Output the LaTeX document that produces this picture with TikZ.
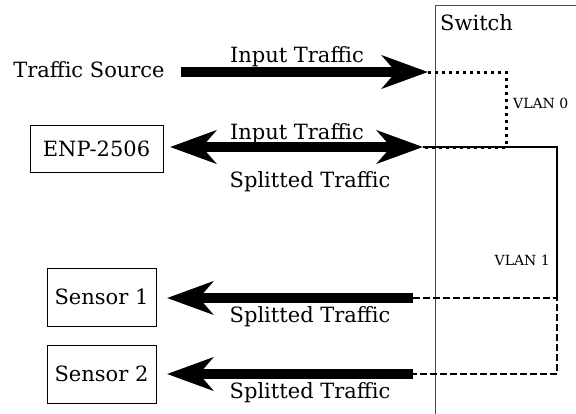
\documentclass[tikz,border=0pt]{standalone}
\usepackage{fontspec}
\setmainfont{DejaVu Serif}
\usetikzlibrary{arrows.meta}
\begin{document}
\begin{tikzpicture}[x=1pt,y=-1pt,
  txt/.style={font=\fontsize{21}{25}\selectfont, inner sep=0pt},
  small/.style={font=\fontsize{14}{16}\selectfont, inner sep=0pt},
  box/.style={draw, line width=0.8pt, font=\fontsize{21}{25}\selectfont, inner sep=0pt},
  fat/.style={line width=10pt},
  headR/.style={-{Stealth[length=46pt,width=33pt,inset=14pt]}},
  headLR/.style={{Stealth[length=46pt,width=33pt,inset=14pt]}-{Stealth[length=46pt,width=33pt,inset=14pt]}},
  headL/.style={{Stealth[length=46pt,width=33pt,inset=14pt]}-},
  vlanzero/.style={line width=3pt, dash pattern=on 3pt off 4pt},
  vlanone/.style={line width=1.6pt},
  vlanoned/.style={line width=2.5pt, dash pattern=on 7pt off 3pt}
]
\useasboundingbox (0,0) rectangle (576,413);
% switch
\draw[black!70, line width=0.8pt] (580,5) -- (435,5) -- (435,420);
\node[txt, anchor=base west] (sw) at (440,30) {Switch};
% nodes
\node[txt, anchor=base] (src) at (89,77) {Traffic Source};
\node[box, minimum width=133pt, minimum height=47pt] (enp) at (96.5,148.5) {ENP-2506};
\node[box, minimum width=109pt, minimum height=58pt] (s1) at (101.5,297) {Sensor 1};
\node[box, minimum width=109pt, minimum height=58pt] (s2) at (101.5,374) {Sensor 2};
% port coordinates
\coordinate (a0) at (181,72);
\coordinate (p0) at (428,72);
\coordinate (a1) at (170,147);
\coordinate (p1) at (423,147);
\coordinate (a2) at (167,298);
\coordinate (p2) at (413,298);
\coordinate (a3) at (167,374);
\coordinate (p3) at (413,374);
\coordinate (c0) at (506,72);
\coordinate (c1) at (506,147);
\coordinate (c2) at (557,147);
\coordinate (c3) at (557,298);
\coordinate (c4) at (557,374);
% arrows
\draw[fat, headR] (a0) -- (p0);
\draw[fat, headLR] (a1) -- (p1);
\draw[fat, headL] (a2) -- (p2);
\draw[fat, headL] (a3) -- (p3);
% labels
\node[txt, anchor=base] (l0) at (297,62) {Input Traffic};
\node[txt, anchor=base] (l1) at (297,139) {Input Traffic};
\node[txt, anchor=base] (l2) at (310,187) {Splitted Traffic};
\node[txt, anchor=base] (l3) at (310,322) {Splitted Traffic};
\node[txt, anchor=base] (l4) at (310,398) {Splitted Traffic};
% vlan paths
\draw[vlanone] (p1) -- (c2) -- (c3);
\draw[vlanzero] (p0) -- (c0) -- (c1) -- (p1);
\draw[vlanoned] (p2) -- (c3) -- (c4) -- (p3);
\node[small, anchor=base west] (v0) at (513,108) {VLAN 0};
\node[small, anchor=base east] (v1) at (550,265) {VLAN 1};
\end{tikzpicture}
\end{document}
